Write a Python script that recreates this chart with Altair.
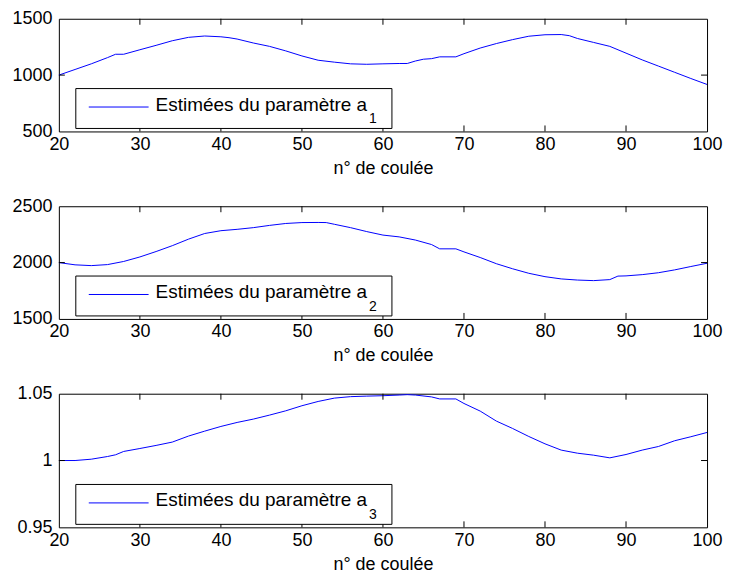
import altair as alt
import pandas as pd

# ---- data ----
x1 = [20, 22, 24, 26, 27, 28, 30, 32, 34, 36, 38, 40, 41, 42, 44, 46, 48, 50, 52, 54, 56, 58,
      60, 62, 63, 64, 65, 66, 67, 69, 70, 72, 74, 76, 78, 80, 82, 83, 84, 86, 88, 90, 92, 94,
      96, 98, 100]
a1 = [1000, 1050, 1100, 1155, 1185, 1185, 1225, 1264, 1305, 1335, 1347, 1340, 1332, 1320,
      1285, 1255, 1215, 1170, 1132, 1115, 1100, 1096, 1100, 1103, 1103, 1125, 1141, 1146,
      1162, 1162, 1190, 1240, 1280, 1315, 1345, 1358, 1360, 1350, 1325, 1290, 1255, 1195,
      1135, 1080, 1025, 970, 917]

x2 = [20, 22, 24, 26, 28, 30, 32, 34, 36, 38, 40, 42, 44, 46, 48, 50, 52, 53, 54, 56, 58, 60,
      62, 64, 66, 67, 69, 70, 72, 74, 76, 78, 80, 82, 84, 86, 88, 89, 90, 92, 94, 96, 98, 100]
a2 = [2000, 1980, 1973, 1982, 2010, 2050, 2098, 2150, 2208, 2258, 2283, 2295, 2310, 2330,
      2347, 2355, 2356, 2355, 2340, 2310, 2275, 2244, 2228, 2200, 2160, 2122, 2122, 2095,
      2045, 1990, 1945, 1905, 1875, 1855, 1845, 1840, 1849, 1880, 1882, 1893, 1910, 1935,
      1965, 1994]

x3 = [20, 22, 24, 26, 27, 28, 30, 32, 34, 36, 38, 40, 42, 44, 46, 48, 50, 52, 54, 56, 58, 60,
      62, 63, 64, 66, 67, 69, 70, 72, 74, 76, 78, 80, 82, 84, 86, 88, 90, 92, 94, 96, 98, 100]
a3 = [1.0, 1.0, 1.001, 1.003, 1.0043, 1.0068, 1.009, 1.0113, 1.0138, 1.0183, 1.022, 1.0255,
      1.0285, 1.031, 1.034, 1.0372, 1.041, 1.0442, 1.0467, 1.0478, 1.0482, 1.0485, 1.049,
      1.0493, 1.049, 1.0476, 1.0461, 1.0461, 1.0427, 1.037, 1.0295, 1.024, 1.018, 1.0125,
      1.0078, 1.0055, 1.004, 1.002, 1.0045, 1.0078, 1.0105, 1.0148, 1.0178, 1.021]

x_tick_labels = [20, 30, 40, 50, 60, 70, 80, 90, 100]
y_ticks_1 = [500, 1000, 1500]
y_ticks_2 = [1500, 2000, 2500]
y_ticks_3 = [0.95, 1.0, 1.05]
x_title = "n° de coulée"
legend_text = "Estimées du paramètre a"
legend_subs = ["1", "2", "3"]

# ---- style ----
W = 650
FONT = "Liberation Sans"
BLUE = "#0000ff"
FS = 18
LFS = 19
TICK = 6
TEXT_W = 213  # approximate rendered width of legend text at LFS


def panel(xs, ys, yticks, h, sub):
    df = pd.DataFrame({"n": xs, "v": ys})
    xsc = alt.Scale(domain=[x_tick_labels[0], x_tick_labels[-1]], nice=False, zero=False)
    ysc = alt.Scale(domain=[yticks[0], yticks[-1]], nice=False, zero=False)
    xax = alt.Axis(values=x_tick_labels, format="d", title=x_title)
    yax = alt.Axis(values=yticks, format="~r", title=None)

    line = alt.Chart(df).mark_line(color=BLUE, strokeWidth=1, clip=True).encode(
        x=alt.X("n:Q", scale=xsc, axis=xax),
        y=alt.Y("v:Q", scale=ysc, axis=yax),
    )
    xt = pd.DataFrame({"n": x_tick_labels[1:-1]})
    yt = pd.DataFrame({"v": yticks[1:-1]})
    xb = alt.Chart(xt).mark_rule(color="black", strokeWidth=1).encode(
        x=alt.X("n:Q", scale=xsc, axis=xax), y=alt.value(h), y2=alt.value(h - TICK))
    xtp = alt.Chart(xt).mark_rule(color="black", strokeWidth=1).encode(
        x=alt.X("n:Q", scale=xsc, axis=xax), y=alt.value(0), y2=alt.value(TICK))
    yl = alt.Chart(yt).mark_rule(color="black", strokeWidth=1).encode(
        y=alt.Y("v:Q", scale=ysc, axis=yax), x=alt.value(0), x2=alt.value(TICK))
    yr = alt.Chart(yt).mark_rule(color="black", strokeWidth=1).encode(
        y=alt.Y("v:Q", scale=ysc, axis=yax), x=alt.value(W), x2=alt.value(W - TICK))

    one = pd.DataFrame({"k": [0]})
    box = alt.Chart(one).mark_rect(fill="white", stroke="black", strokeWidth=1).encode(
        x=alt.value(17), x2=alt.value(334), y=alt.value(h - 43), y2=alt.value(h - 3))
    samp = alt.Chart(one).mark_rule(color=BLUE, strokeWidth=1).encode(
        x=alt.value(30), x2=alt.value(90), y=alt.value(h - 24.5))
    txt = alt.Chart(one).mark_text(
        text=legend_text, align="left", baseline="alphabetic", font=FONT,
        fontSize=LFS, color="black").encode(x=alt.value(97), y=alt.value(h - 21))
    subt = alt.Chart(one).mark_text(
        text=sub, align="left", baseline="alphabetic", font=FONT,
        fontSize=14, color="black").encode(x=alt.value(97 + TEXT_W + 1), y=alt.value(h - 8))

    return alt.layer(line, xb, xtp, yl, yr, box, samp, txt, subt).properties(width=W, height=h)


p1 = panel(x1, a1, y_ticks_1, 113, legend_subs[0])
p2 = panel(x2, a2, y_ticks_2, 113, legend_subs[1])
p3 = panel(x3, a3, y_ticks_3, 134, legend_subs[2])

chart = alt.vconcat(p1, p2, p3, spacing=75, bounds="flush").properties(
    padding={"left": 3, "top": 0, "right": 0, "bottom": 0}
).configure_view(
    stroke="black", strokeWidth=1
).configure_axis(
    labelFont=FONT, labelFontSize=FS, labelColor="black",
    titleFont=FONT, titleFontSize=FS, titleFontWeight="normal", titleColor="black",
    ticks=False, tickSize=0, domain=False, grid=False,
    labelFlush=False, labelOverlap=False,
).configure_axisX(
    labelPadding=4, titlePadding=6
).configure_axisY(
    labelPadding=7
)

chart.save("out.html", embed_options={"renderer": "svg", "actions": False})
